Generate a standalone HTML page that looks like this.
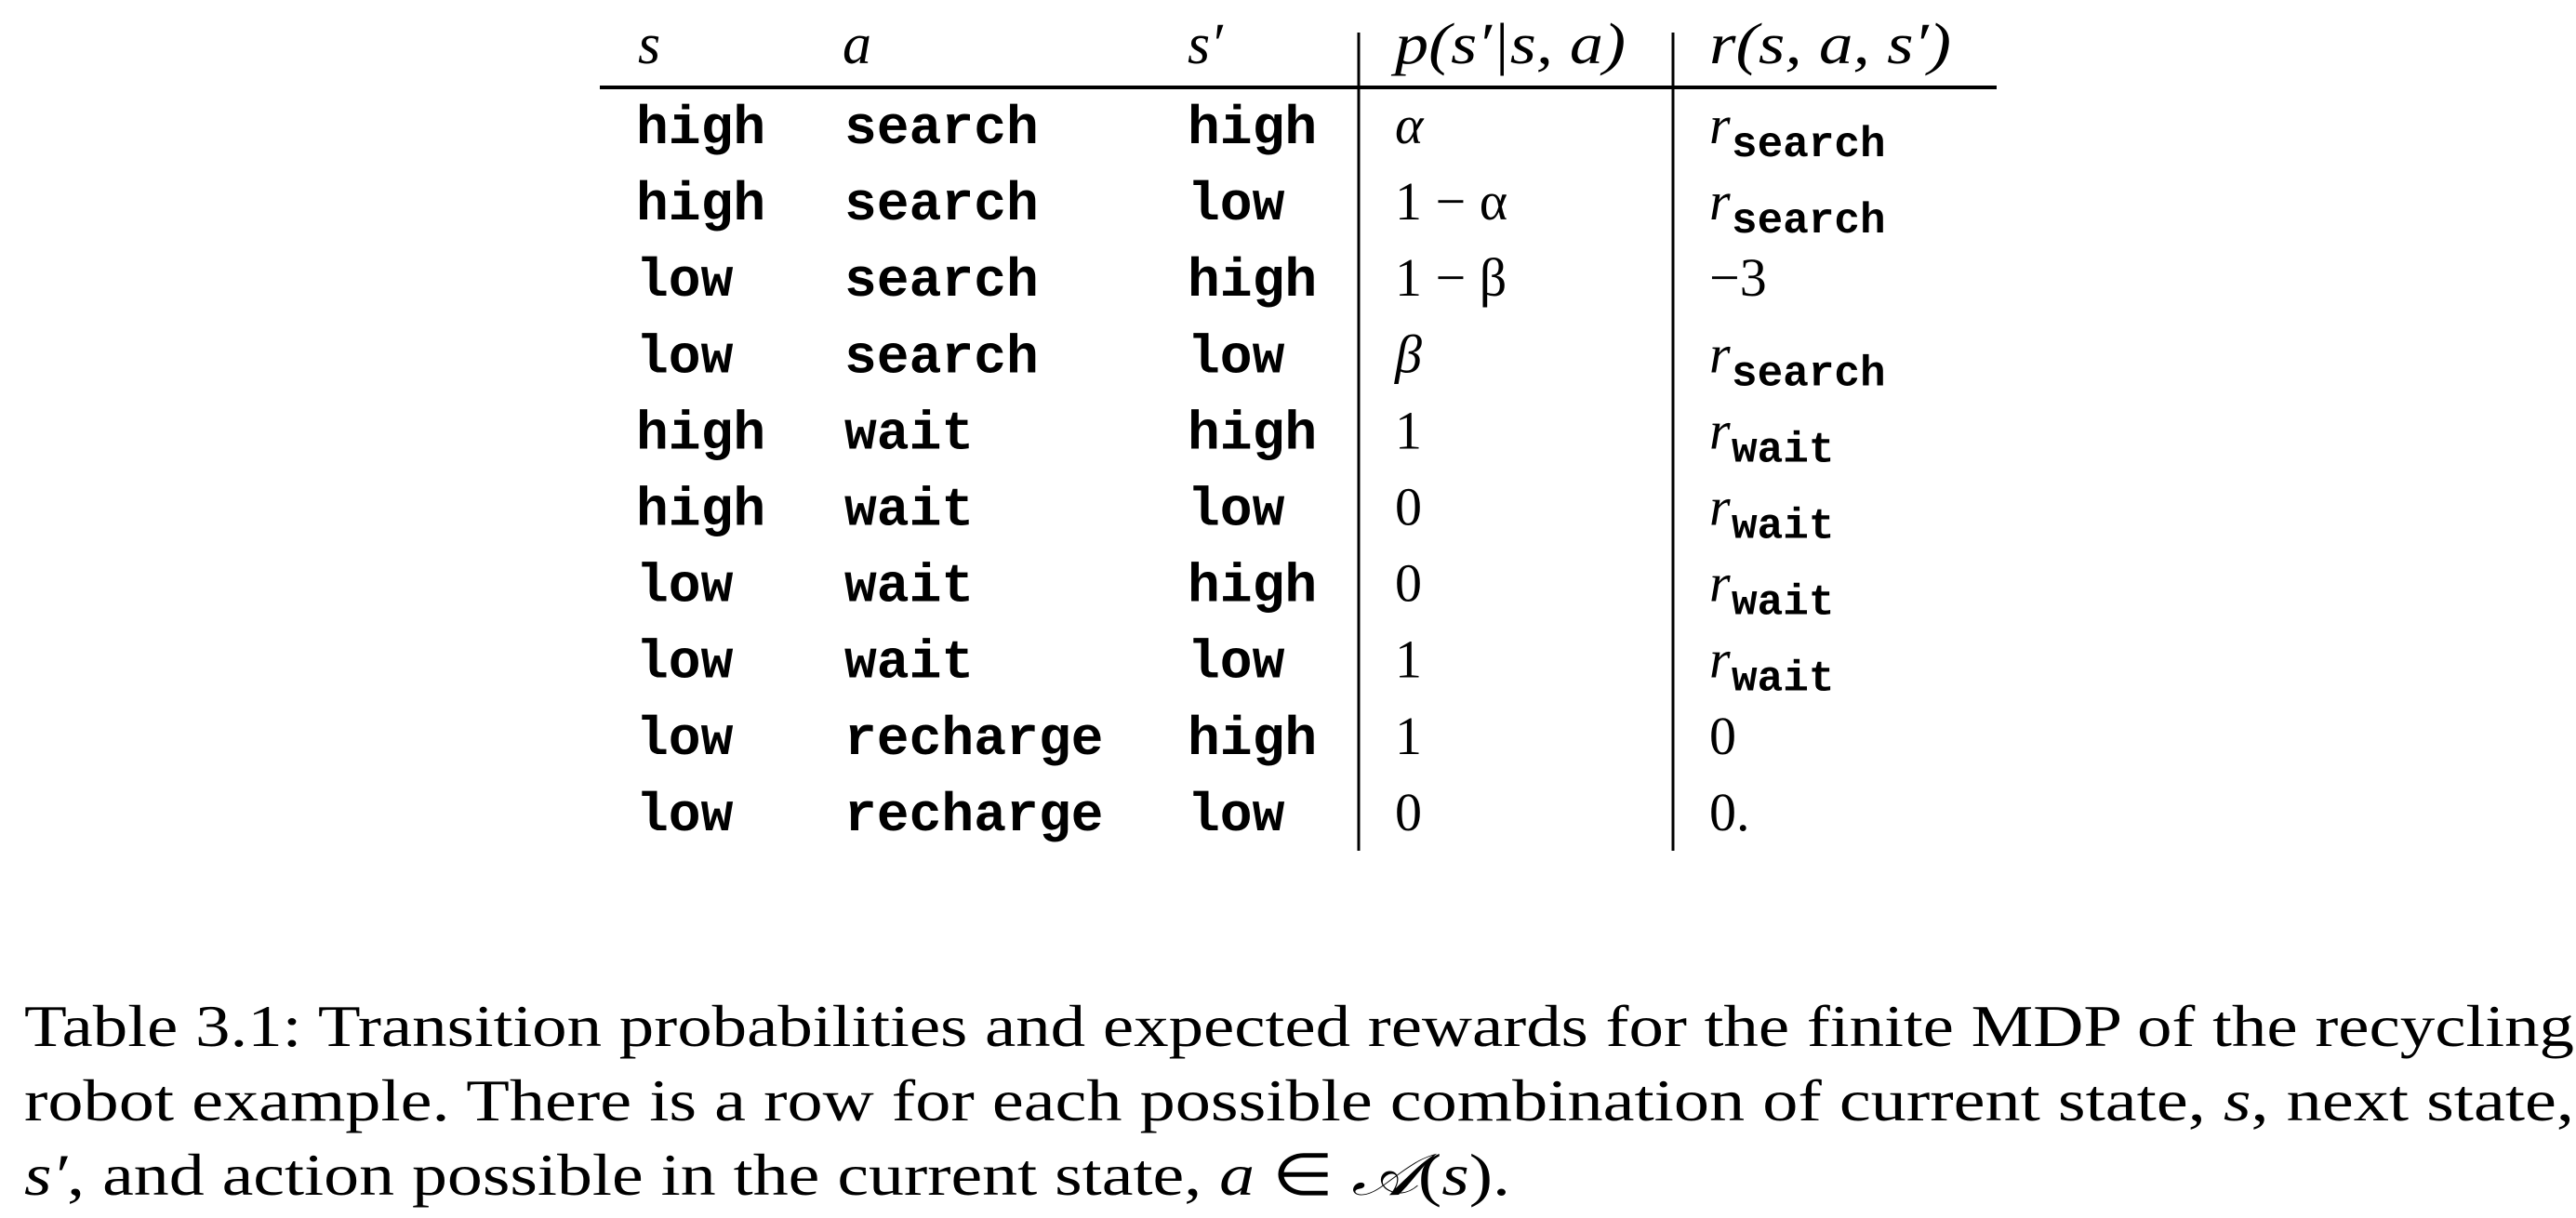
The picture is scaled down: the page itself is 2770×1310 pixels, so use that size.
<!DOCTYPE html>
<html><head><meta charset="utf-8"><style>
html,body{margin:0;padding:0;background:#fff;}
svg{display:block}
.m{font-family:"Liberation Mono",monospace;font-size:58px;font-weight:bold;}
.i{font-family:"Liberation Serif",serif;font-style:italic;font-size:58px;}
.h{font-family:"Liberation Serif",serif;font-style:italic;font-size:62px;}
.r{font-family:"Liberation Serif",serif;font-size:58px;}
.c{font-family:"Liberation Serif",serif;font-size:63px;}
</style></head><body>
<svg width="2770" height="1310" xmlns="http://www.w3.org/2000/svg">
<g>
<line x1="645" y1="94" x2="2147" y2="94" stroke="#000" stroke-width="4"/>
<line x1="1461" y1="35" x2="1461" y2="915" stroke="#000" stroke-width="3"/>
<line x1="1799" y1="35" x2="1799" y2="915" stroke="#000" stroke-width="3"/>
<g>
<text class="h" x="686" y="68">s</text>
<text class="h" x="906" y="68">a</text>
<text class="h" x="1277" y="68">s′</text>
<text class="h" x="1500" y="68" textLength="248" lengthAdjust="spacingAndGlyphs">p(s′|s, a)</text>
<text class="h" x="1838" y="68" textLength="260" lengthAdjust="spacingAndGlyphs">r(s, a, s′)</text>
</g>
<g id="rows"></g>
</g>
<g>
<text class="c" x="26" y="1125" textLength="2742" lengthAdjust="spacingAndGlyphs">Table 3.1: Transition probabilities and expected rewards for the finite MDP of the recycling</text>
<text class="c" x="26" y="1205" textLength="2742" lengthAdjust="spacingAndGlyphs">robot example. There is a row for each possible combination of current state, <tspan font-style="italic">s</tspan>, next state,</text>
<text class="c" x="26" y="1285" textLength="1598" lengthAdjust="spacingAndGlyphs"><tspan font-style="italic">s′</tspan>, and action possible in the current state, <tspan font-style="italic">a</tspan> ∈ <tspan font-style="italic">𝒜</tspan>(<tspan font-style="italic">s</tspan>).</text>
</g>
</svg>
<script>
const S=["high","high","low","low","high","high","low","low","low","low"];
const A=["search","search","search","search","wait","wait","wait","wait","recharge","recharge"];
const S2=["high","low","high","low","high","low","high","low","high","low"];
const P=["α","1 − α","1 − β","β","1","0","0","1","1","0"];
const R=["search","search","−3","search","wait","wait","wait","wait","0","0."];
const g=document.getElementById('rows');
const NS="http://www.w3.org/2000/svg";
function t(cls,x,y,s){const e=document.createElementNS(NS,'text');e.setAttribute('class',cls);e.setAttribute('x',x);e.setAttribute('y',y);e.textContent=s;return e;}
for(let k=0;k<S.length;k++){
  const y=154+k*82.1;
  const row=document.createElementNS(NS,'g');
  
  
  row.appendChild(t('m',684,y,S[k]));
  row.appendChild(t('m',908,y,A[k]));
  row.appendChild(t('m',1277,y,S2[k]));
  const isNum=/^[0-9]/.test(P[k]);
  row.appendChild(t(isNum?'r':'i',1500,y,P[k]));
  if(R[k]==="search"||R[k]==="wait"){
    const e=t('i',1838,y,'r');row.appendChild(e);
    const sub=t('m',1862,y+14,R[k]);sub.setAttribute('style','font-size:46px');row.appendChild(sub);
  } else row.appendChild(t('r',1838,y,R[k]));
  g.appendChild(row);
}
</script>
</body></html>
